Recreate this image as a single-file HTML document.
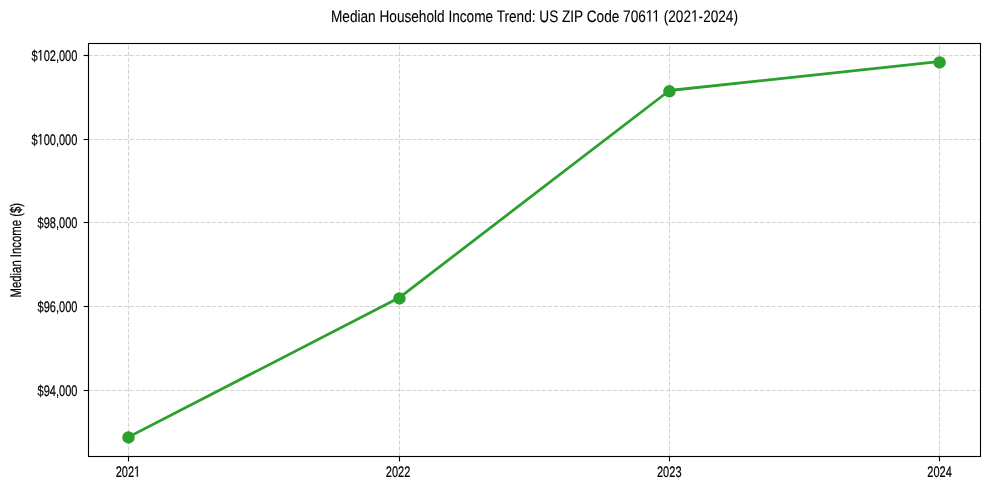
<!DOCTYPE html><html><head><meta charset="utf-8"><style>html,body{margin:0;padding:0;background:#fff;width:989px;height:490px;overflow:hidden}svg{display:block;will-change:transform}text{font-family:"Liberation Sans",sans-serif;fill:#000;text-rendering:geometricPrecision;stroke:#000;stroke-width:0.22px}.h{fill-opacity:0;stroke-opacity:0}.one{fill:#000;stroke:#000}</style></head><body>
<svg width="989" height="490" viewBox="0 0 989 490">
<rect width="989" height="490" fill="#fff"/>
<g stroke="#b0b0b0" stroke-opacity="0.55" stroke-width="1.11" stroke-dasharray="4.11 1.78"><line x1="128.5" y1="456.5" x2="128.5" y2="43.5"/><line x1="399.5" y1="456.5" x2="399.5" y2="43.5"/><line x1="669.5" y1="456.5" x2="669.5" y2="43.5"/><line x1="939.5" y1="456.5" x2="939.5" y2="43.5"/><line x1="88.5" y1="55.5" x2="980.5" y2="55.5"/><line x1="88.5" y1="139.5" x2="980.5" y2="139.5"/><line x1="88.5" y1="222.5" x2="980.5" y2="222.5"/><line x1="88.5" y1="306.5" x2="980.5" y2="306.5"/><line x1="88.5" y1="390.5" x2="980.5" y2="390.5"/></g>
<polyline points="128.7,436.9 399.1,297.8 669.4,90.5 939.6,61.6" fill="none" stroke="#2ca02c" stroke-width="2.78" stroke-linejoin="round" stroke-linecap="square"/>
<circle cx="128.5" cy="437.4" r="5.56" fill="#2ca02c" stroke="#2ca02c" stroke-width="1.39"/>
<circle cx="399.45" cy="298.4" r="5.56" fill="#2ca02c" stroke="#2ca02c" stroke-width="1.39"/>
<circle cx="669.4" cy="91.35" r="5.56" fill="#2ca02c" stroke="#2ca02c" stroke-width="1.39"/>
<circle cx="939.6" cy="62.4" r="5.56" fill="#2ca02c" stroke="#2ca02c" stroke-width="1.39"/>
<rect x="88.5" y="43.5" width="892.0" height="413.0" fill="none" stroke="#000" stroke-width="1.11"/>
<g stroke="#000" stroke-width="1.11"><line x1="128.5" y1="456.5" x2="128.5" y2="461.36"/><line x1="399.5" y1="456.5" x2="399.5" y2="461.36"/><line x1="669.5" y1="456.5" x2="669.5" y2="461.36"/><line x1="939.5" y1="456.5" x2="939.5" y2="461.36"/><line x1="88.5" y1="55.5" x2="83.64" y2="55.5"/><line x1="88.5" y1="139.5" x2="83.64" y2="139.5"/><line x1="88.5" y1="222.5" x2="83.64" y2="222.5"/><line x1="88.5" y1="306.5" x2="83.64" y2="306.5"/><line x1="88.5" y1="390.5" x2="83.64" y2="390.5"/></g>
<text id="l0" transform="translate(127.90,476.8) scale(0.795,1.1)" font-size="13.8889" text-anchor="middle" style="stroke-width:0.2px">202<tspan class="h">1</tspan></text>
<path class="one" transform="translate(127.90,476.8) scale(0.795,1.1) translate(7.719,0.000) scale(0.006782,-0.006782)" d="M515 0V1237L197 1010V1180L530 1409H696V0Z" stroke-width="29.49"/>
<text id="l1" transform="translate(398.10,476.8) scale(0.795,1.1)" font-size="13.8889" text-anchor="middle" style="stroke-width:0.2px">2022</text>
<text id="l2" transform="translate(669.25,476.8) scale(0.795,1.1)" font-size="13.8889" text-anchor="middle" style="stroke-width:0.2px">2023</text>
<text id="l3" transform="translate(939.60,476.8) scale(0.795,1.1)" font-size="13.8889" text-anchor="middle" style="stroke-width:0.2px">2024</text>
<text id="l4" transform="translate(77.4,60.6) scale(0.795,1.1)" font-size="13.8889" text-anchor="end" style="stroke-width:0.2px">&#36;<tspan class="h">1</tspan>02,000</text>
<path class="one" transform="translate(77.4,60.6) scale(0.795,1.1) translate(-50.172,0.000) scale(0.006782,-0.006782)" d="M515 0V1237L197 1010V1180L530 1409H696V0Z" stroke-width="29.49"/>
<text id="l5" transform="translate(77.4,144.6) scale(0.795,1.1)" font-size="13.8889" text-anchor="end" style="stroke-width:0.2px">&#36;<tspan class="h">1</tspan>00,000</text>
<path class="one" transform="translate(77.4,144.6) scale(0.795,1.1) translate(-50.172,0.000) scale(0.006782,-0.006782)" d="M515 0V1237L197 1010V1180L530 1409H696V0Z" stroke-width="29.49"/>
<text id="l6" transform="translate(77.4,227.6) scale(0.795,1.1)" font-size="13.8889" text-anchor="end" style="stroke-width:0.2px">&#36;98,000</text>
<text id="l7" transform="translate(77.4,311.6) scale(0.795,1.1)" font-size="13.8889" text-anchor="end" style="stroke-width:0.2px">&#36;96,000</text>
<text id="l8" transform="translate(77.4,395.6) scale(0.795,1.1)" font-size="13.8889" text-anchor="end" style="stroke-width:0.2px">&#36;94,000</text>
<text id="l9" transform="translate(534.5,21.6) scale(0.818,1)" font-size="16.6667" text-anchor="middle" style="stroke-width:0.1px">Median Household Income Trend: US ZIP Code 706<tspan class="h">1</tspan><tspan class="h">1</tspan> (202<tspan class="h">1</tspan>-2024)</text>
<path class="one" transform="translate(534.5,21.6) scale(0.818,1) translate(136.086,0.000) scale(0.008138,-0.008138)" d="M515 0V1237L197 1010V1180L530 1409H696V0Z" stroke-width="12.29"/>
<path class="one" transform="translate(534.5,21.6) scale(0.818,1) translate(144.117,0.000) scale(0.008138,-0.008138)" d="M515 0V1237L197 1010V1180L530 1409H696V0Z" stroke-width="12.29"/>
<path class="one" transform="translate(534.5,21.6) scale(0.818,1) translate(191.352,0.000) scale(0.008138,-0.008138)" d="M515 0V1237L197 1010V1180L530 1409H696V0Z" stroke-width="12.29"/>
<text id="l10" transform="translate(20.8,250.2) rotate(-90) scale(0.818,1.1)" font-size="13.8889" text-anchor="middle" style="stroke-width:0.2px">Median Income (&#36;)</text>
</svg></body></html>
